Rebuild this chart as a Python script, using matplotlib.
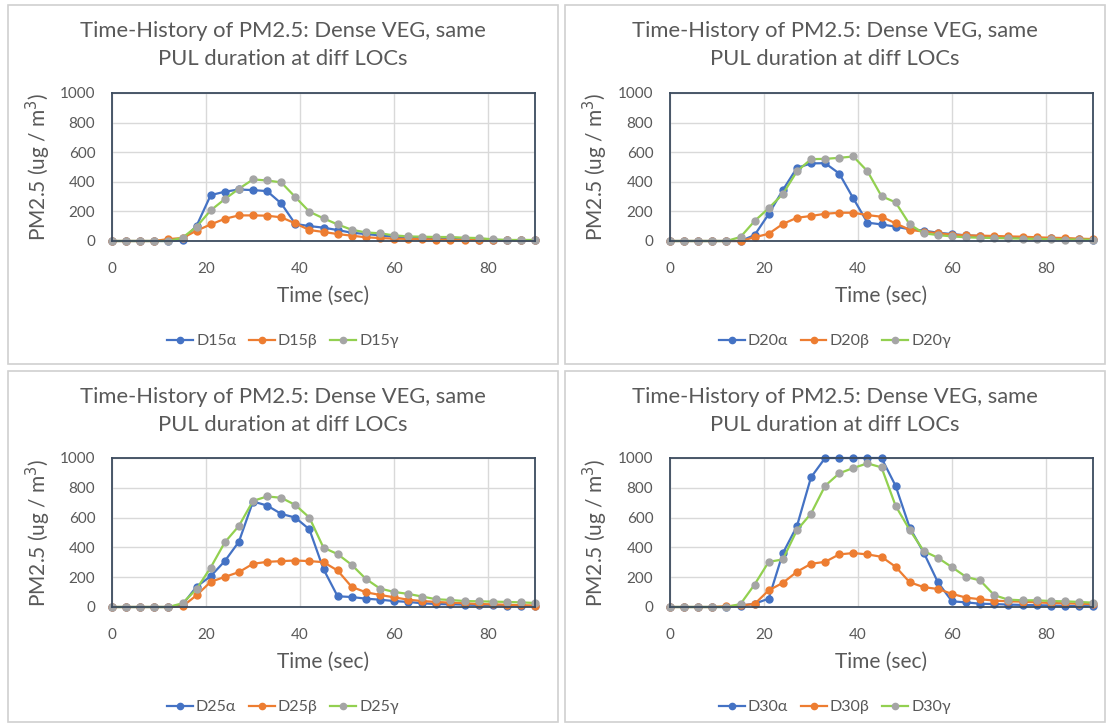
import matplotlib
matplotlib.use('Agg')
import matplotlib.pyplot as plt
from matplotlib.patches import Rectangle

plt.rcParams['font.family'] = ['Lato', 'DejaVu Sans']

# ---------------- data ----------------
times = [0, 3, 6, 9, 12, 15, 18, 21, 24, 27, 30, 33, 36, 39, 42, 45,
         48, 51, 54, 57, 60, 63, 66, 69, 72, 75, 78, 81, 84, 87, 90]

d15_a = [0, 0, 0, 0, 0, 5, 103, 310, 333, 348, 344, 337, 254, 115, 101, 90,
         74, 56, 47, 38, 29, 25, 20, 16, 13, 11, 9, 7, 6, 5, 5]
d15_b = [0, 0, 0, 0, 13, 20, 70, 112, 150, 173, 173, 171, 160, 119, 74, 61,
         47, 36, 25, 20, 16, 14, 12, 10, 8, 7, 6, 5, 5, 4, 4]
d15_g = [0, 0, 0, 0, 0, 22, 97, 207, 283, 353, 416, 409, 396, 297, 198, 153,
         112, 76, 58, 52, 38, 31, 29, 27, 27, 22, 20, 11, 7, 7, 7]

d20_a = [0, 0, 0, 0, 0, 0, 40, 182, 344, 494, 524, 526, 456, 288, 124, 112,
         97, 79, 70, 56, 47, 38, 34, 29, 25, 22, 20, 18, 15, 12, 10]
d20_b = [0, 0, 0, 0, 0, 0, 25, 49, 115, 157, 169, 184, 191, 191, 175, 164,
         119, 76, 63, 52, 43, 38, 36, 34, 31, 29, 25, 22, 20, 16, 13]
d20_g = [0, 0, 0, 0, 0, 27, 135, 222, 317, 470, 553, 555, 562, 571, 472, 303,
         261, 112, 52, 40, 31, 25, 22, 20, 18, 16, 14, 12, 10, 10, 8]

d25_a = [0, 0, 0, 0, 0, 16, 137, 207, 308, 438, 708, 681, 625, 600, 521, 254,
         72, 67, 56, 49, 40, 34, 25, 20, 18, 16, 14, 12, 10, 8, 6]
d25_b = [0, 0, 0, 0, 0, 4, 79, 169, 202, 234, 290, 303, 308, 312, 308, 301,
         245, 135, 99, 81, 65, 49, 40, 34, 29, 25, 20, 18, 15, 12, 10]
d25_g = [0, 0, 0, 0, 0, 25, 121, 265, 434, 544, 712, 742, 733, 685, 600, 398,
         355, 283, 189, 124, 101, 88, 70, 52, 47, 40, 38, 36, 34, 31, 27]

d30_a = [0, 0, 0, 0, 0, 9, 22, 56, 360, 542, 870, 1000, 1000, 1000, 1000, 1000,
         813, 533, 364, 166, 38, 31, 22, 20, 16, 14, 12, 10, 8, 6, 5]
d30_b = [0, 0, 0, 0, 5, 11, 20, 112, 162, 236, 290, 303, 353, 362, 353, 337,
         270, 166, 133, 121, 88, 63, 52, 43, 38, 36, 31, 27, 25, 22, 20]
d30_g = [0, 0, 0, 0, 0, 20, 151, 303, 319, 515, 627, 813, 897, 933, 964, 937,
         679, 517, 375, 330, 267, 202, 178, 79, 49, 45, 45, 40, 38, 34, 29]

x_ticks = [0, 20, 40, 60, 80]
y_ticks = [0, 200, 400, 600, 800, 1000]

title = "Time-History of PM2.5: Dense VEG, same\nPUL duration at diff LOCs"

W, H = 1107, 726
TXT = '#595959'
BLUE = '#4472C4'
ORANGE = '#ED7D31'
GRAY = '#A5A5A5'
GREEN = '#92D050'

fig = plt.figure(figsize=(W / 100, H / 100), dpi=100)


def fx(px):
    return px / W


def fy(py):
    return 1 - py / H


def panel(box, plot, names, a, b, g):
    # box = (left, top, right, bottom) in pixels, plot = same for plot area
    bl, bt, br, bb = box
    fig.patches.append(Rectangle((fx(bl), fy(bb)), fx(br - bl), (bb - bt) / H,
                                 transform=fig.transFigure, fill=False,
                                 edgecolor='#D0D0D0', linewidth=1.2))
    pl, pt, pr, pb = plot
    ax = fig.add_axes([fx(pl), fy(pb), fx(pr - pl), (pb - pt) / H])
    ax.plot(times, a, color=BLUE, marker='o', ms=5, lw=1.6, label=names[0], clip_on=False)
    ax.plot(times, b, color=ORANGE, marker='o', ms=5, lw=1.6, label=names[1], clip_on=False)
    ax.plot(times, g, color=GREEN, marker='o', ms=5, lw=1.6, mfc=GRAY, mec=GRAY,
            label=names[2], clip_on=False)
    ax.set_xlim(0, 90)
    ax.set_ylim(0, 1000)
    ax.set_xticks(x_ticks)
    ax.set_yticks(y_ticks)
    ax.tick_params(length=0, labelsize=11, labelcolor=TXT)
    ax.tick_params(axis='x', pad=15)
    ax.tick_params(axis='y', pad=12)
    ax.grid(True, color='#D9D9D9', lw=1)
    ax.set_axisbelow(True)
    for s in ax.spines.values():
        s.set_color('#3C4B5E')
        s.set_linewidth(1.3)
    cx = (pl + pr) / 2
    bx = (bl + br) / 2
    fig.text(fx(bx), fy(bt + 16), title, ha='center', va='top',
             fontsize=15.8, color=TXT, linespacing=1.5)
    fig.text(fx(cx), fy(pb + 55), "Time (sec)", ha='center', va='center',
             fontsize=15, color=TXT)
    fig.text(fx(bl + 30), fy((pt + pb) / 2), "PM2.5 (ug / m$^3$)", rotation=90,
             ha='center', va='center', fontsize=15, color=TXT)
    ax.legend(loc='center', bbox_to_anchor=(fx(bx), fy(pb + 100)),
              bbox_transform=fig.transFigure, ncol=3, frameon=False,
              fontsize=11.5, labelcolor=TXT, handlelength=1.6, handletextpad=0.2,
              columnspacing=0.8, markerscale=0.9)
    return ax


panel((8, 5, 558, 364), (112, 93, 535, 241), ['D15α', 'D15β', 'D15γ'], d15_a, d15_b, d15_g)
panel((565, 5, 1105, 364), (670, 93, 1093, 241), ['D20α', 'D20β', 'D20γ'], d20_a, d20_b, d20_g)
panel((8, 371, 558, 722), (112, 458, 535, 607), ['D25α', 'D25β', 'D25γ'], d25_a, d25_b, d25_g)
panel((565, 371, 1105, 722), (670, 458, 1093, 607), ['D30α', 'D30β', 'D30γ'], d30_a, d30_b, d30_g)

fig.savefig('out.png', dpi=100, facecolor='white')
